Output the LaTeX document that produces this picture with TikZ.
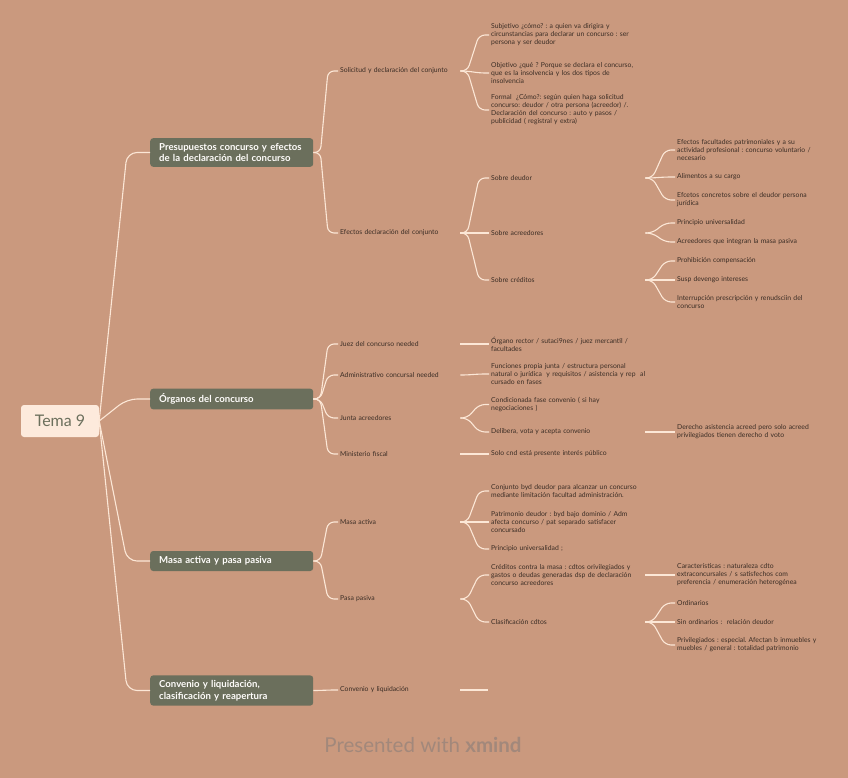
\documentclass[tikz,border=0pt]{standalone}
\usepackage{fontspec}
\setmainfont{Lato}
\frenchspacing
\definecolor{xmbg}{HTML}{CA997E}
\definecolor{xmolive}{HTML}{6B6F5C}
\definecolor{xmcream}{HTML}{FDEADC}
\definecolor{xmline}{HTML}{FCE7D6}
\definecolor{xmtext}{HTML}{3B2D25}
\definecolor{xmfoot}{HTML}{A2887B}

\begin{document}
\begin{tikzpicture}[
          x=1pt, y=-1pt,
          rootbox/.style={fill=xmcream, rounded corners=3pt, minimum width=78pt,
                      minimum height=32pt, font=\fontsize{16}{19}\selectfont, text=xmolive},
          topic/.style={fill=xmolive, rounded corners=3pt, anchor=west, align=left,
                      text width=145pt, inner xsep=9pt, inner ysep=5pt, minimum height=20pt,
                      font=\bfseries\fontsize{9.6}{11.5}\selectfont, text=white!90!xmcream},
          leaf/.style={anchor=west, align=left, inner xsep=2pt, inner ysep=1pt,
                      text=xmtext, font=\fontsize{6.8}{8}\selectfont},
          leafA/.style={leaf, text width=118pt},
          leafB/.style={leaf, text width=152pt},
          leafC/.style={leaf, text width=150pt},
          link/.style={draw=xmline, line width=1.1pt, rounded corners=6pt,
                      to path={-- ++(7,0) -- ([xshift=-10pt]\tikztotarget.west) -- (\tikztotarget.west)}},
          rootlink/.style={draw=xmline, line width=1.1pt, rounded corners=10pt,
                      to path={-- ([xshift=-23pt]\tikztotarget.west) -- (\tikztotarget.west)}}
        ]
        \useasboundingbox[fill=xmbg] (0,0) rectangle (848,778);
        \node[rootbox] (root) at (60,421) {Tema 9};
        \node[topic] (p1) at (150,152.5) {Presupuestos concurso y efectos\\de la declaración del concurso};
        \node[topic] (p2) at (150,399) {Órganos del concurso};
        \node[topic] (p3) at (150,561) {Masa activa y pasa pasiva};
        \node[topic] (p4) at (150,690.5) {Convenio y liquidación,\\clasificación y reapertura};
        \node[leafA] (a1) at (338,71) {Solicitud y declaración del conjunto};
        \node[leafA] (a2) at (338,233) {Efectos declaración del conjunto};
        \node[leafA] (b1) at (338,344) {Juez del concurso needed};
        \node[leafA] (b2) at (338,375) {Administrativo concursal needed};
        \node[leafA] (b3) at (338,418) {Junta acreedores};
        \node[leafA] (b4) at (338,454) {Ministerio fiscal};
        \node[leafA] (c1) at (338,522) {Masa activa};
        \node[leafA] (c2) at (338,599) {Pasa pasiva};
        \node[leafA] (d1) at (338,690) {Convenio y liquidación};
        \coordinate (d1end) at (488,690);
        \node[leafB] (subj) at (489,35) {Subjetivo ¿cómo? : a quien va dirigira y\\circunstancias para declarar un concurso : ser\\persona y ser deudor};
        \node[leafB] (obj) at (489,73) {Objetivo ¿qué ? Porque se declara el concurso,\\que es la insolvencia y los dos tipos de\\insolvencia};
        \node[leafB] (formal) at (489,110) {Formal\ \ ¿Cómo?: según quien haga solicitud\\concurso: deudor / otra persona (acreedor) /.\\Declaración del concurso : auto y pasos /\\publicidad ( registral y extra)};
        \node[leafB] (deud) at (489,178) {Sobre deudor};
        \node[leafB] (acre) at (489,233) {Sobre acreedores};
        \node[leafB] (cred) at (489,280) {Sobre créditos};
        \node[leafB] (rector) at (489,344) {Órgano rector / sutaci9nes / juez mercantil /\\facultades};
        \node[leafB, text width=170pt] (func) at (489,374) {Funciones propia junta / estructura personal\\natural o jurídica\ \ y requisitos / asistencia y rep\ \ al\\cursado en fases};
        \node[leafB] (cond) at (489,404.5) {Condicionada fase convenio ( si hay\\negociaciones )};
        \node[leafB] (delib) at (489,432) {Delibera, vota y acepta convenio};
        \node[leafB] (fiscal) at (489,454) {Solo cnd está presente interés público};
        \node[leafB] (conj) at (489,491) {Conjunto byd deudor para alcanzar un concurso\\mediante limitación facultad administración.};
        \node[leafB] (patr) at (489,522) {Patrimonio deudor : byd bajo dominio / Adm\\afecta concurso / pat separado satisfacer\\concursado};
        \node[leafB] (puniv) at (489,549) {Principio universalidad ;};
        \node[leafB] (contra) at (489,575) {Créditos contra la masa : cdtos orivilegiados y\\gastos o deudas generadas dsp de declaración\\concurso acreedores};
        \node[leafB] (clasif) at (489,622) {Clasificación cdtos};
        \node[leafC] (facul) at (675,150) {Efectos facultades patrimoniales y a su\\actividad profesional : concurso voluntario /\\necesario};
        \node[leafC] (alim) at (675,177) {Alimentos a su cargo};
        \node[leafC] (concr) at (675,200) {Efcetos concretos sobre el deudor persona\\jurídica};
        \node[leafC] (princ) at (675,223) {Principio universalidad};
        \node[leafC] (integ) at (675,242) {Acreedores que integran la masa pasiva};
        \node[leafC] (prohib) at (675,261) {Prohibición compensación};
        \node[leafC] (susp) at (675,280) {Susp devengo intereses};
        \node[leafC] (interr) at (675,302) {Interrupción prescripción y renudsciin del\\concurso};
        \node[leafC] (derecho) at (675,432) {Derecho asistencia acreed pero solo acreed\\privilegiados tienen derecho d voto};
        \node[leafC] (caract) at (675,575) {Características : naturaleza cdto\\extraconcursales / s satisfechos com\\preferencia / enumeración heterogénea};
        \node[leafC] (ordin) at (675,603) {Ordinarios};
        \node[leafC] (sinord) at (675,622) {Sin ordinarios :\ \ relación deudor};
        \node[leafC] (privil) at (675,645) {Privilegiados : especial. Afectan b inmuebles y\\muebles / general : totalidad patrimonio};
        \node[font=\fontsize{20.5}{24}\selectfont, text=xmfoot] (foot) at (423,745) {Presented with \textbf{xmind}};
        \draw[rootlink] (root.east) to (p1);
        \draw[rootlink] (root.east) to (p2);
        \draw[rootlink] (root.east) to (p3);
        \draw[rootlink] (root.east) to (p4);
        \draw[link] (p1.east) to (a1);
        \draw[link] (p1.east) to (a2);
        \draw[link] (p2.east) to (b1);
        \draw[link] (p2.east) to (b2);
        \draw[link] (p2.east) to (b3);
        \draw[link] (p2.east) to (b4);
        \draw[link] (p3.east) to (c1);
        \draw[link] (p3.east) to (c2);
        \draw[link] (p4.east) to (d1);
        \draw[link] (a1.east) to (subj);
        \draw[link] (a1.east) to (obj);
        \draw[link] (a1.east) to (formal);
        \draw[link] (a2.east) to (deud);
        \draw[link] (a2.east) to (acre);
        \draw[link] (a2.east) to (cred);
        \draw[link] (b1.east) to (rector);
        \draw[link] (b2.east) to (func);
        \draw[link] (b3.east) to (cond);
        \draw[link] (b3.east) to (delib);
        \draw[link] (b4.east) to (fiscal);
        \draw[link] (c1.east) to (conj);
        \draw[link] (c1.east) to (patr);
        \draw[link] (c1.east) to (puniv);
        \draw[link] (c2.east) to (contra);
        \draw[link] (c2.east) to (clasif);
        \draw[link] (d1.east) -- (d1end);
        \draw[link] (deud.east) to (facul);
        \draw[link] (deud.east) to (alim);
        \draw[link] (deud.east) to (concr);
        \draw[link] (acre.east) to (princ);
        \draw[link] (acre.east) to (integ);
        \draw[link] (cred.east) to (prohib);
        \draw[link] (cred.east) to (susp);
        \draw[link] (cred.east) to (interr);
        \draw[link] (delib.east) to (derecho);
        \draw[link] (contra.east) to (caract);
        \draw[link] (clasif.east) to (ordin);
        \draw[link] (clasif.east) to (sinord);
        \draw[link] (clasif.east) to (privil);
      \end{tikzpicture}
\end{document}
